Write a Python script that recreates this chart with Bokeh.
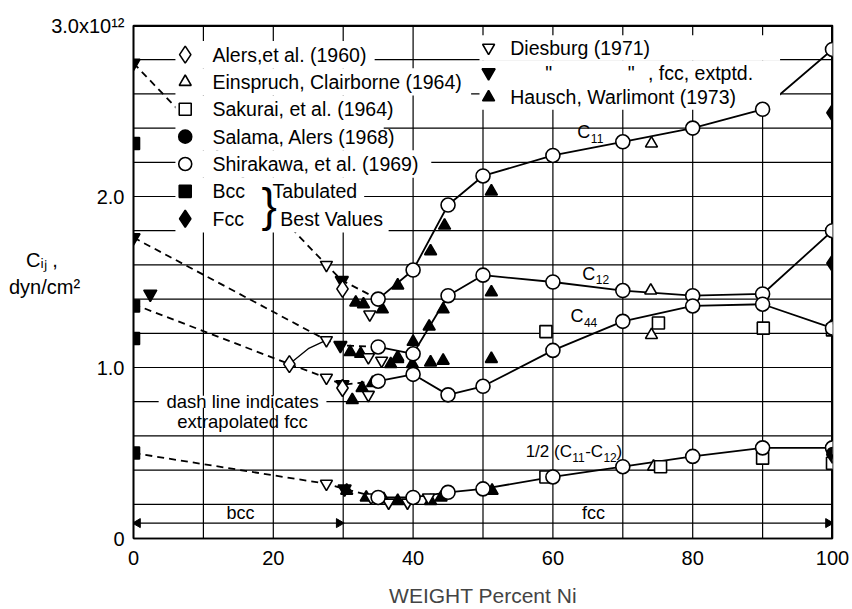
import math
from bokeh.plotting import figure
from bokeh.models import FixedTicker, Range1d
from bokeh.core.properties import value
from bokeh.embed import file_html
from bokeh.resources import INLINE

FONT = "Liberation Sans"
NB = "\u00a0"

# ---------------- data (weight % Ni, units 1e12 dyn/cm^2) ----------------
shira_x = [35, 40, 45, 50, 60, 70, 80, 90, 100]
shira_c11 = [1.40, 1.57, 1.95, 2.12, 2.24, 2.32, 2.40, 2.51, 2.86]
shira_c12 = [1.12, 1.08, 1.42, 1.54, 1.50, 1.45, 1.42, 1.43, 1.80]
shira_c44 = [0.92, 0.96, 0.84, 0.89, 1.10, 1.27, 1.36, 1.37, 1.23]
shira_cp = [0.24, 0.24, 0.27, 0.29, 0.36, 0.42, 0.48, 0.53, 0.53]

# extrapolated (dashed) curves
ext_c11_x = [0, 27.6, 29.8, 35]
ext_c11_y = [2.78, 1.60, 1.51, 1.40]
ext_c12_x = [0, 27.6, 29.6, 35]
ext_c12_y = [1.76, 1.16, 1.13, 1.12]
ext_c44a_x = [0, 22.3]
ext_c44a_y = [1.37, 1.02]
ext_c44b_x = [22.3, 27.6, 29.9, 35]
ext_c44b_y = [1.02, 0.94, 0.90, 0.92]
ext_cp_x = [0, 27.6, 30.2, 35]
ext_cp_y = [0.50, 0.32, 0.29, 0.24]
arc_x = [22.3, 25.0, 27.6]
arc_y = [1.02, 1.11, 1.16]

alers_x = [22.3, 29.9, 29.9]
alers_y = [1.02, 1.46, 0.88]
einspruch_x = [74.1, 74.0, 74.1, 74.4]
einspruch_y = [2.31, 1.45, 1.19, 0.42]
sakurai_x = [59, 75.1, 90.1, 100, 59, 75.4, 90, 100]
sakurai_y = [1.21, 1.26, 1.23, 1.22, 0.36, 0.42, 0.47, 0.44]
salama_x = [100]
salama_y = [0.50]
bcc_x = [0, 0, 0, 0]
bcc_y = [2.31, 1.36, 1.17, 0.50]
fcc_x = [100, 100, 100, 100]
fcc_y = [2.49, 1.61, 1.24, 0.49]
dies_x = [27.6, 27.6, 27.6, 27.6, 33.8, 33.6, 35.5, 33.6, 34.0, 36.5, 39.2, 42.2]
dies_y = [1.60, 1.16, 0.94, 0.32, 1.31, 1.06, 1.04, 0.84, 0.24, 0.21, 0.21, 0.24]
dies_fcc_x = [0, 0, 2.4, 29.8, 29.6, 29.9, 30.2]
dies_fcc_y = [2.78, 1.76, 1.43, 1.51, 1.13, 0.90, 0.29]
hausch_x = [31.8, 32.9, 35.6, 37.8, 42.5, 44.5, 51.2,
            31.0, 32.5, 37.8, 40.0, 42.3, 44.3, 51.2,
            31.3, 32.7, 34.2, 36.8, 37.8, 39.9, 42.5, 44.3, 51.2,
            30.5, 33.3, 35.8, 37.8, 42.5, 44.0, 51.3]
hausch_y = [1.38, 1.37, 1.34, 1.48, 1.68, 1.83, 2.03,
            1.09, 1.08, 1.06, 1.15, 1.24, 1.34, 1.44,
            0.81, 0.88, 0.91, 1.02, 1.05, 1.02, 1.03, 1.04, 1.05,
            0.28, 0.24, 0.23, 0.22, 0.22, 0.24, 0.28]

x_ticks = [0, 20, 40, 60, 80, 100]
y_ticks = [0, 1, 1.55, 2, 3]
y_tick_labels = {0: "0", 1: "1.0", 2: "2.0", 3: "3.0x10\u00b9\u00b2",
                 1.55: "C\u1d62\u2c7c ," + NB * 12 + "\ndyn/cm\u00b2" + NB * 8}
X_MIN, X_MAX, Y_MIN, Y_MAX = 0, 100, 0, 3.0
grid_x = list(range(10, 100, 10))
grid_y = [round(0.2 * i, 1) for i in range(1, 15)]

# phase regions (bcc up to 30 % Ni, fcc beyond)
phase_x = [0, 30, 100]
phase_names = ["bcc", "fcc"]

# ---------------- figure ----------------
p = figure(width=852, height=609, x_range=Range1d(X_MIN, X_MAX), y_range=Range1d(Y_MIN, Y_MAX),
           output_backend="svg", toolbar_location=None,
           min_border_left=133, min_border_right=20, min_border_top=25, min_border_bottom=65)
p.outline_line_color = "black"
p.outline_line_width = 1.6
p.grid.visible = False

for ax in (p.xaxis, p.yaxis):
    ax.major_tick_line_color = None
    ax.minor_tick_line_color = None
    ax.axis_line_width = 1.6
    ax.major_label_text_font = FONT
    ax.major_label_text_color = "black"
    ax.major_label_text_font_size = "20px"
p.xaxis.ticker = FixedTicker(ticks=x_ticks)
p.yaxis.ticker = FixedTicker(ticks=y_ticks)
p.yaxis.major_label_overrides = y_tick_labels
p.xaxis.major_label_standoff = 6
p.yaxis.major_label_standoff = 3
p.xaxis.axis_label = "WEIGHT Percent Ni"
p.xaxis.axis_label_text_font = FONT
p.xaxis.axis_label_text_font_size = "21px"
p.xaxis.axis_label_text_font_style = "normal"
p.xaxis.axis_label_standoff = 16

LW = 1.8
# extrapolated dashed curves (drawn first: in the svg output anything drawn
# before the first dashed line got clipped away)
for xs, ys in [(ext_c11_x, ext_c11_y), (ext_c12_x, ext_c12_y), (ext_c44a_x, ext_c44a_y),
               (ext_c44b_x, ext_c44b_y), (ext_cp_x, ext_cp_y)]:
    p.line(xs, ys, line_color="black", line_width=LW, line_dash="7 5")

# grid and the top / right frame edges, drawn as glyphs
p.segment(x0=grid_x, y0=[Y_MIN] * len(grid_x), x1=grid_x, y1=[Y_MAX] * len(grid_x),
          line_color="black", line_width=1.2)
p.segment(x0=[X_MIN] * len(grid_y), y0=grid_y, x1=[X_MAX] * len(grid_y), y1=grid_y,
          line_color="black", line_width=1.2)
p.segment(x0=[X_MIN, X_MAX], y0=[Y_MAX, Y_MIN], x1=[X_MAX, X_MAX], y1=[Y_MAX, Y_MAX],
          line_color="black", line_width=3)

p.line(arc_x, arc_y, line_color="black", line_width=1.3)
# Shirakawa curves
for ys in (shira_c11, shira_c12, shira_c44, shira_cp):
    p.line(shira_x, ys, line_color="black", line_width=LW)

# ---------------- key layout ----------------
kx_m, kx_t, ky0, kdy = 7.4, 11.3, 2.83, 0.16
key_left = [("diamond", "white", 17, "Alers,et al. (1960)", 34.5),
            ("triangle", "white", 12, "Einspruch, Clairborne (1964)", 48.3),
            ("square", "white", 12, "Sakurai, et al. (1964)", 36.2),
            ("circle", "black", 13, "Salama, Alers (1968)", 35.8),
            ("circle", "white", 13, "Shirakawa, et al. (1969)", 42.6),
            ("square", "black", 12, "Bcc", 33.0),
            ("diamond", "black", 17, "Fcc", 36.5)]
krx_m, krx_t, kr0, krd = 50.8, 53.9, 2.87, 0.145

# white grounds under the key (hide grid and lines there)
lq_top = [ky0 - i * kdy + kdy / 2 for i in range(len(key_left))]
lq_bot = [ky0 - i * kdy - kdy / 2 for i in range(len(key_left))]
lq_right = [row[4] for row in key_left]
p.quad(left=[6.0] * len(key_left), right=lq_right, bottom=lq_bot, top=lq_top,
       fill_color="white", line_color=None)
p.quad(left=[49.5] * 3, right=[92.5] * 3,
       bottom=[kr0 - i * krd - krd / 2 for i in range(3)],
       top=[kr0 - i * krd + krd / 2 for i in range(3)],
       fill_color="white", line_color=None)
p.quad(left=[3.6], right=[27.6], bottom=[0.765], top=[0.835], fill_color="white", line_color=None)

def pts(xs, ys, marker, fill, size, angle=0.0):
    p.scatter(xs, ys, marker=marker, size=size, fill_color=fill, line_color="black",
              line_width=1.6, angle=angle)

# data markers
pts(hausch_x, hausch_y, "triangle", "black", 12)
pts(dies_fcc_x, dies_fcc_y, "inverted_triangle", "black", 13)
pts(dies_x, dies_y, "inverted_triangle", "white", 12)
pts(alers_x, alers_y, "diamond", "white", 17)
pts(einspruch_x, einspruch_y, "triangle", "white", 12)
pts(sakurai_x, sakurai_y, "square", "white", 12)
pts(bcc_x, bcc_y, "square", "black", 12)
pts(fcc_x, fcc_y, "diamond", "black", 17)
for ys in (shira_c11, shira_c12, shira_c44, shira_cp):
    pts(shira_x, ys, "circle", "white", 14)
pts(salama_x, salama_y, "circle", "black", 11)

def txt(x, y, text, size=19.5, align="left", baseline="middle"):
    p.text(x=[x], y=[y], text=[text], text_font=value(FONT), text_font_size=value(f"{size}px"),
           text_align=align, text_baseline=baseline, text_color="black")

# key symbols and names
for i, (m, f, s, t, _) in enumerate(key_left):
    yy = ky0 - i * kdy
    pts([kx_m], [yy], m, f, s)
    txt(kx_t, yy, t)
txt(18.3, ky0 - 5.5 * kdy, "}", size=46)
txt(19.9, ky0 - 5 * kdy, "Tabulated")
txt(21.0, ky0 - 6 * kdy, "Best Values")

pts([krx_m], [kr0], "inverted_triangle", "white", 12)
txt(krx_t, kr0, "Diesburg (1971)")
pts([krx_m], [kr0 - krd], "inverted_triangle", "black", 13)
txt(58.9, kr0 - krd, "\"")
txt(70.7, kr0 - krd, "\"")
txt(73.6, kr0 - krd, ", fcc, extptd.")
pts([krx_m], [kr0 - 2 * krd], "triangle", "black", 12)
txt(krx_t, kr0 - 2 * krd, "Hausch, Warlimont (1973)")

# curve labels: main letter + lowered subscript
PX = 1 / 6.99     # data units per pixel (x)
PY = 1 / 173.0    # data units per pixel (y)

def csub(x0, y0, parts, big=18, small=12):
    x = x0
    for text, is_sub, w in parts:
        if is_sub:
            txt(x, y0 - 6 * PY, text, size=small)
        else:
            txt(x, y0, text, size=big)
        x += w * PX

csub(63.5, 2.376, [("C", False, 13.5), ("11", True, 0)])
csub(64.2, 1.549, [("C", False, 13.5), ("12", True, 0)])
csub(62.5, 1.300, [("C", False, 13.5), ("44", True, 0)])
csub(56.1, 0.509, [("1/2 (C", False, 46.5), ("11", True, 13.0), ("-C", False, 18.3),
                   ("12", True, 13.0), (")", False, 0)], big=17, small=12)

# notes
txt(15.6, 0.80, "dash line indicates", size=18.5, align="center")
txt(15.6, 0.685, "extrapolated fcc", size=18.5, align="center")

# phase bar: line with arrow heads, names
ARW = 0.09
p.segment(x0=phase_x[:-1], y0=[ARW] * 2, x1=phase_x[1:], y1=[ARW] * 2,
          line_color="black", line_width=1.4)
p.scatter([phase_x[0] + 0.6], [ARW], marker="triangle", size=9, angle=math.pi / 2,
          fill_color="black", line_color="black")
p.scatter([phase_x[1] - 0.6, phase_x[2] - 0.6], [ARW, ARW], marker="triangle", size=9,
          angle=-math.pi / 2, fill_color="black", line_color="black")
txt(15.3, 0.15, phase_names[0], align="center", size=18)
txt(65.8, 0.15, phase_names[1], align="center", size=18)

open("out.html", "w").write(file_html(p, INLINE))
